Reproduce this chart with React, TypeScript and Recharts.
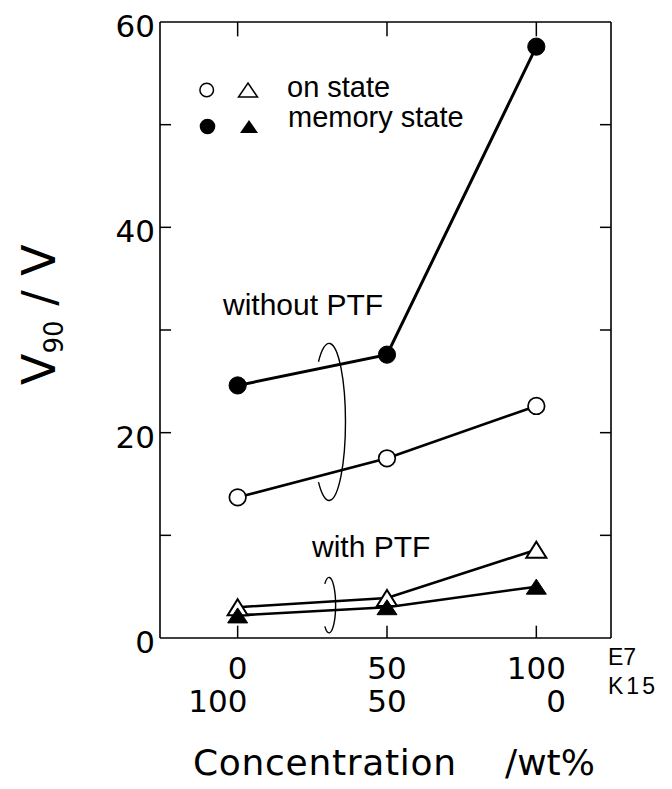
import React from 'react';
import { LineChart, Line, XAxis, YAxis, ReferenceLine, ReferenceArea } from 'recharts';

// ---- data ----
const e7Concentration = [0, 50, 100];
const e7Labels = ['0', '50', '100'];
const k15Labels = ['100', '50', '0'];
const memoryWithoutPTF = [24.6, 27.6, 57.6];
const onWithoutPTF = [13.7, 17.5, 22.6];
const onWithPTF = [3.0, 3.9, 8.6];
const memoryWithPTF = [2.2, 3.0, 5.0];
const yTickLabels = [0, 20, 40, 60];
const yTickMarks = [10, 20, 30, 40, 50];
const xDomain: [number, number] = [-26, 125];
const yDomain: [number, number] = [0, 60];

const data = e7Concentration.map((x, i) => ({
  x,
  memNo: memoryWithoutPTF[i],
  onNo: onWithoutPTF[i],
  onPtf: onWithPTF[i],
  memPtf: memoryWithPTF[i],
}));

const NUM_FONT = 'DejaVu Sans, sans-serif';
const TXT_FONT = 'Liberation Sans, Arial, sans-serif';

const OpenCircle = (p: any) => (
  <circle key={`oc-${p.index}`} cx={p.cx} cy={p.cy} r={8.3} fill="#fff" stroke="#000" strokeWidth={1.7} />
);
const FilledCircle = (p: any) => (
  <circle key={`fc-${p.index}`} cx={p.cx} cy={p.cy} r={8.6} fill="#000" stroke="#000" strokeWidth={1} />
);
const OpenTriangle = (p: any) => {
  const hw = 10, h = 16;
  const d = `M${p.cx},${p.cy - h / 2} L${p.cx + hw},${p.cy + h / 2} L${p.cx - hw},${p.cy + h / 2} Z`;
  return <path key={`ot-${p.index}`} d={d} fill="#fff" stroke="#000" strokeWidth={2} strokeLinejoin="miter" />;
};
const FilledTriangle = (p: any) => {
  const hw = 10, h = 15;
  const d = `M${p.cx},${p.cy - h / 2} L${p.cx + hw},${p.cy + h / 2} L${p.cx - hw},${p.cy + h / 2} Z`;
  return <path key={`ft-${p.index}`} d={d} fill="#000" stroke="#000" strokeWidth={1} />;
};

// open-ring ellipse (left middle missing)
const Ring = (props: any) => {
  const { x, y, width, height } = props;
  const cx = x + width / 2, cy = y + height / 2, rx = Math.abs(width / 2), ry = Math.abs(height / 2);
  const a0 = (-130 * Math.PI) / 180, a1 = (130 * Math.PI) / 180;
  const p0 = [cx + rx * Math.cos(a0), cy + ry * Math.sin(a0)];
  const p1 = [cx + rx * Math.cos(a1), cy + ry * Math.sin(a1)];
  const d = `M${p0[0]},${p0[1]} A${rx},${ry} 0 1 1 ${p1[0]},${p1[1]}`;
  return <path d={d} fill="none" stroke="#000" strokeWidth={1.4} />;
};

const YTick = (p: any) => (
  <text x={p.x} y={p.y + 15} textAnchor="end" fontFamily={NUM_FONT} fontSize={31} fill="#000">
    {p.payload.value}
  </text>
);

const XTick = (p: any) => {
  const i = e7Concentration.indexOf(p.payload.value);
  if (i < 0) return null;
  const fs = 31;
  const w1 = e7Labels[i].length * 0.636 * fs;
  return (
    <g>
      <text x={p.x} y={p.y + 41} textAnchor="middle" fontFamily={NUM_FONT} fontSize={fs} fill="#000">
        {e7Labels[i]}
      </text>
      <text x={p.x + w1 / 2} y={p.y + 74} textAnchor="end" fontFamily={NUM_FONT} fontSize={fs} fill="#000">
        {k15Labels[i]}
      </text>
    </g>
  );
};

const tri = (cx: number, cy: number, hw: number, h: number) =>
  `M${cx},${cy - h / 2} L${cx + hw},${cy + h / 2} L${cx - hw},${cy + h / 2} Z`;

export default function App() {
  const axisStroke = { stroke: '#000', strokeWidth: 1.6 };
  return (
    <div style={{ position: 'absolute', left: 0, top: 0, width: 672, height: 789, background: '#fff' }}>
      <LineChart
        width={672}
        height={789}
        data={data}
        margin={{ top: 22, right: 61, bottom: 71, left: 100 }}
      >
        <XAxis
          type="number"
          dataKey="x"
          domain={xDomain}
          ticks={e7Concentration}
          interval={0}
          allowDataOverflow
          height={80}
          tickLine={false}
          tickSize={0}
          tickMargin={0}
          axisLine={axisStroke}
          tick={<XTick />}
        />
        <YAxis
          type="number"
          domain={yDomain}
          ticks={yTickLabels}
          interval={0}
          width={60}
          tickLine={false}
          tickSize={0}
          tickMargin={5}
          axisLine={axisStroke}
          tick={<YTick />}
        />
        <ReferenceLine y={yDomain[1]} stroke="#000" strokeWidth={1.6} ifOverflow="visible" />
        <ReferenceLine x={xDomain[1]} stroke="#000" strokeWidth={1.6} ifOverflow="visible" />
        {yTickMarks.map((v) => (
          <ReferenceLine
            key={`yl-${v}`}
            segment={[{ x: xDomain[0], y: v }, { x: xDomain[0] + 3.7, y: v }]}
            stroke="#000"
            strokeWidth={1.5}
            ifOverflow="visible"
          />
        ))}
        {yTickMarks.map((v) => (
          <ReferenceLine
            key={`yr-${v}`}
            segment={[{ x: xDomain[1] - 3.7, y: v }, { x: xDomain[1], y: v }]}
            stroke="#000"
            strokeWidth={1.5}
            ifOverflow="visible"
          />
        ))}
        {e7Concentration.map((v) => (
          <ReferenceLine
            key={`xb-${v}`}
            segment={[{ x: v, y: 0 }, { x: v, y: 1.2 }]}
            stroke="#000"
            strokeWidth={1.5}
            ifOverflow="visible"
          />
        ))}
        {e7Concentration.map((v) => (
          <ReferenceLine
            key={`xt-${v}`}
            segment={[{ x: v, y: 58.6 }, { x: v, y: 60 }]}
            stroke="#000"
            strokeWidth={1.5}
            ifOverflow="visible"
          />
        ))}
        <ReferenceArea x1={25.1} x2={36.1} y1={13.4} y2={28.7} ifOverflow="visible" shape={<Ring />} />
        <ReferenceArea x1={28.4} x2={32.8} y1={0.5} y2={5.9} ifOverflow="visible" shape={<Ring />} />
        <Line type="linear" dataKey="memNo" stroke="#000" strokeWidth={3} dot={FilledCircle} isAnimationActive={false} />
        <Line type="linear" dataKey="onNo" stroke="#000" strokeWidth={2.6} dot={OpenCircle} isAnimationActive={false} />
        <Line type="linear" dataKey="onPtf" stroke="#000" strokeWidth={2.6} dot={OpenTriangle} isAnimationActive={false} />
        <Line type="linear" dataKey="memPtf" stroke="#000" strokeWidth={2.6} dot={FilledTriangle} isAnimationActive={false} />
      </LineChart>
      <svg
        width={672}
        height={789}
        style={{ position: 'absolute', left: 0, top: 0, pointerEvents: 'none' }}
      >
        {/* legend */}
        <circle cx={206.7} cy={90} r={6.8} fill="#fff" stroke="#000" strokeWidth={1.5} />
        <path d={tri(248, 90, 9.5, 14)} fill="#fff" stroke="#000" strokeWidth={1.5} />
        <text x={287} y={97} fontFamily={TXT_FONT} fontSize={29} fill="#000">on state</text>
        <circle cx={207.5} cy={126.5} r={7.8} fill="#000" />
        <path d={tri(249, 126.5, 9, 13)} fill="#000" />
        <text x={288} y={127} fontFamily={TXT_FONT} fontSize={29} fill="#000">memory state</text>
        {/* annotations */}
        <text x={223} y={315} fontFamily={TXT_FONT} fontSize={30} fill="#000">without PTF</text>
        <text x={312} y={557} fontFamily={TXT_FONT} fontSize={30} fill="#000">with PTF</text>
        {/* secondary axis row names */}
        <text x={608} y={665} fontFamily={TXT_FONT} fontSize={23} fill="#000">E7</text>
        <text x={608} y={694} fontFamily={TXT_FONT} fontSize={23} letterSpacing={3} fill="#000">K15</text>
        {/* axis titles */}
        <text x={193} y={775} fontFamily={NUM_FONT} fontSize={36} letterSpacing={0.7} fill="#000">Concentration</text>
        <text x={505} y={775} fontFamily={NUM_FONT} fontSize={36} fill="#000">/wt%</text>
        <text
          x={55}
          y={385}
          transform="rotate(-90 55 385)"
          fontFamily={NUM_FONT}
          fontSize={46}
          fill="#000"
          textAnchor="start"
        >
          V
          <tspan fontSize={26} dy={8}>90</tspan>
          <tspan dy={-8} xmlSpace="preserve">{'\u00a0/\u00a0V'}</tspan>
        </text>
      </svg>
    </div>
  );
}
